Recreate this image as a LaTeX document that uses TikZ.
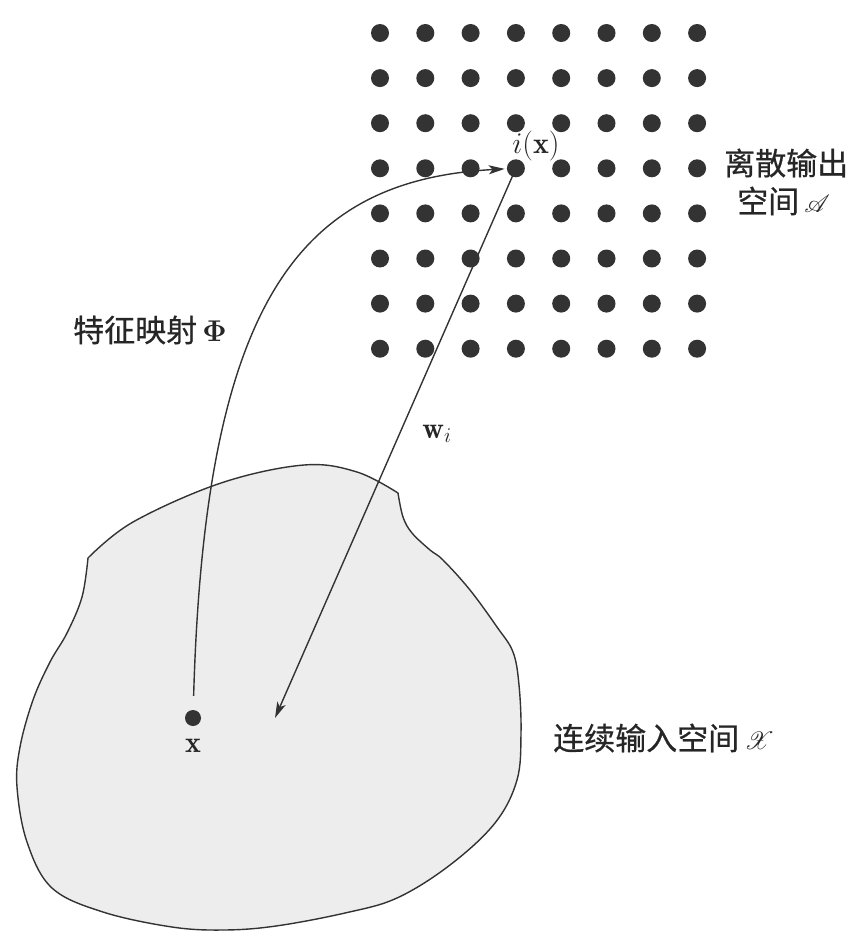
\documentclass[tikz,border=0pt]{standalone}
\usepackage{fix-cm}
\usepackage{fontspec}
\usepackage{mathrsfs}
\newfontfamily\cjk[FakeBold=0.6]{Noto Sans CJK SC}
\usetikzlibrary{arrows.meta}
\begin{document}
\begin{tikzpicture}[x=1pt,y=-1pt,
  dot/.style={circle,fill=black!80,inner sep=0pt,minimum size=18pt},
  xdot/.style={circle,fill=black!80,inner sep=0pt,minimum size=16pt},
  conn/.style={draw=black!80,line width=1.4pt},
  arr/.style={conn,-{Stealth[length=16pt,width=9pt,inset=4pt]}},
  blob/.style={draw=black!80,line width=1.4pt,fill=black!7,line join=round},
  cjklbl/.style={inner sep=0pt,text=black!85,font=\cjk\fontsize{31}{37}\selectfont},
  mlbl/.style={inner sep=0pt,text=black!85,font=\fontsize{30}{34}\selectfont}]
\useasboundingbox (0,0) rectangle (857,934);
% continuous input space
\path[blob]
  plot[smooth,tension=0.6] coordinates {(88,558) (133,522) (221,483) (304,465) (357,472) (398,493)}
  -- plot[smooth,tension=0.6] coordinates {(398,493) (403,517) (412,533) (430,550) (443,560)
    (470,590) (497,627) (513,652) (519,685) (521,733) (517,780) (495,823) (450,865)
    (397,898) (345,913) (276,926) (224,930) (172,927) (103,912) (52,888) (27,842)
    (17,787) (20,747) (33,700) (50,662) (67,633) (82,597) (88,558)} -- cycle;
% discrete output lattice
\foreach \c in {1,...,8}
  \foreach \r in {1,...,8}
    \node[dot] (d-\c-\r) at ({380+(\c-1)*45.3},{33+(\r-1)*45.1}) {};
% input point
\node[xdot] (xp) at (193,718) {};
\node[mlbl] (xl) at (193,746) {$\mathbf{x}$};
\coordinate (wend) at (275,718);
% connectors
\draw[arr,shorten <=14pt,shorten >=2pt] (xp) .. controls (205,300) and (300,180) .. (d-4-4);
\draw[arr] (d-4-4.center) -- (wend);
% labels
\node[mlbl] (ix) at (536,146) {$i(\mathbf{x})$};
\node[mlbl] (wi) at (437,434) {$\mathbf{w}_i$};
\node[cjklbl,anchor=west] (out1) at (724,163) {离散输出};
\node[cjklbl,anchor=west] (out2) at (737,201) {空间\,{\fontsize{24.88}{28}\selectfont$\mathscr{A}$}};
\node[cjklbl,anchor=west] (phi) at (73,330) {特征映射\,{\rmfamily\bfseries\fontsize{30}{34}\selectfont Φ}};
\node[cjklbl,anchor=west] (inp) at (553,738) {连续输入空间\,{\fontsize{24.88}{28}\selectfont$\mathscr{X}$}};
\end{tikzpicture}
\end{document}
